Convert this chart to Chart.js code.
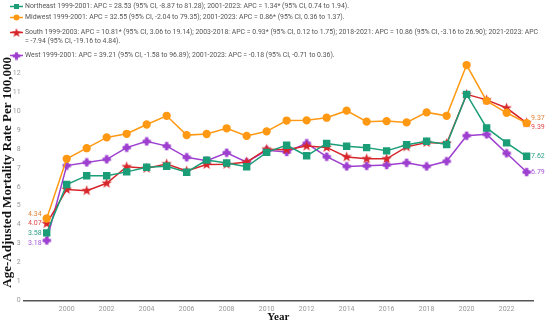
<!DOCTYPE html>
<html><head><meta charset="utf-8">
<script src="https://cdn.jsdelivr.net/npm/chart.js@4.4.1/dist/chart.umd.min.js"></script>
<style>
html,body{margin:0;padding:0;background:#fff;}
#wrap{position:relative;width:546px;height:326px;overflow:hidden;}
#c{position:absolute;left:0;top:0;z-index:1;}
#legend{position:absolute;left:0;top:0;width:546px;height:62px;z-index:2;font-family:Roboto,"Noto Sans",sans-serif;font-size:6.9px;color:#555;}
.li{position:absolute;left:25px;white-space:nowrap;line-height:9px;height:9px;}
.mk{position:absolute;left:10px;}
#ylabels{position:absolute;left:0;top:0;width:546px;height:326px;z-index:3;pointer-events:none;}
.yt{position:absolute;width:14px;font-family:Roboto,"Noto Sans",sans-serif;font-size:7px;line-height:9px;height:9px;color:#999;text-align:right;white-space:nowrap;}
</style></head>
<body>
<div id="wrap"><canvas id="c" width="546" height="326"></canvas><div id="legend"></div><div id="ylabels"></div></div>
<script>
const years = [1999,2000,2001,2002,2003,2004,2005,2006,2007,2008,2009,2010,2011,2012,2013,2014,2015,2016,2017,2018,2019,2020,2021,2022,2023];
const northeast = [3.58,6.13,6.60,6.60,6.80,7.04,7.10,6.78,7.42,7.27,7.07,7.83,8.21,7.65,8.30,8.15,8.08,7.91,8.23,8.42,8.25,10.89,9.12,8.33,7.62];
const midwest   = [4.34,7.49,8.05,8.62,8.81,9.30,9.76,8.74,8.80,9.10,8.70,8.94,9.51,9.52,9.66,10.03,9.45,9.48,9.41,9.94,9.76,12.44,10.55,9.92,9.37];
const south     = [4.07,5.87,5.81,6.20,7.07,6.99,7.22,6.85,7.19,7.20,7.32,8.00,7.97,8.16,8.09,7.59,7.49,7.49,8.12,8.35,8.30,10.89,10.60,10.17,9.39];
const west      = [3.18,7.13,7.30,7.46,8.08,8.41,8.16,7.57,7.39,7.81,7.31,7.94,7.85,8.31,7.60,7.09,7.12,7.16,7.28,7.09,7.36,8.71,8.78,7.78,6.79];
const xTickYears = [2000,2002,2004,2006,2008,2010,2012,2014,2016,2018,2020,2022];
const yTickValues = [0,1,2,3,4,5,6,7,8,9,10,11,12];
const seriesNames = ['Northeast','Midwest','South','West'];
const legendLines = [
  'Northeast 1999-2001: APC = 28.53 (95% CI, -8.87 to 81.28); 2001-2023: APC = 1.34* (95% CI, 0.74 to 1.94).',
  'Midwest 1999-2001: APC = 32.55 (95% CI, -2.04 to 79.35); 2001-2023: APC = 0.86* (95% CI, 0.36 to 1.37).',
  'South 1999-2003: APC = 10.81* (95% CI, 3.06 to 19.14); 2003-2018: APC = 0.93* (95% CI, 0.12 to 1.75); 2018-2021: APC = 10.86 (95% CI, -3.16 to 26.90); 2021-2023: APC',
  '= -7.94 (95% CI, -19.16 to 4.84).',
  'West 1999-2001: APC = 39.21 (95% CI, -1.58 to 96.89); 2001-2023: APC = -0.18 (95% CI, -0.71 to 0.36).'
];

const COLORS = {teal:'#1b9e77', orange:'#ff9914', red:'#d7262b', purple:'#9d3fcf'};

function makeStar(color, R){
  const s = Math.ceil(R*2+2), c = document.createElement('canvas'); c.width = s; c.height = s;
  const g = c.getContext('2d'); const cx = s/2, cy = s/2, r = R*0.42;
  g.beginPath();
  for (let i=0;i<10;i++){ const a = -Math.PI/2 + i*Math.PI/5; const rr = i%2? r : R;
    g.lineTo(cx + rr*Math.cos(a), cy + rr*Math.sin(a)); }
  g.closePath(); g.fillStyle = color; g.fill();
  return c;
}
function makePlus(color, R, t){
  const s = Math.ceil(R*2+1), c = document.createElement('canvas'); c.width = s; c.height = s;
  const g = c.getContext('2d'); const m = s/2;
  g.fillStyle = color;
  g.fillRect(m - t/2, m - R, t, 2*R);
  g.fillRect(m - R, m - t/2, 2*R, t);
  g.beginPath(); g.arc(m, m, t*0.85, 0, Math.PI*2); g.fill();
  return c;
}
const starImg = makeStar(COLORS.red, 5.5);
const plusImg = makePlus(COLORS.purple, 4.2, 3.2);

const toXY = arr => arr.map((v,i)=>({x:years[i], y:v}));

(function(){
  const lg = document.getElementById('legend');
  const centers = [6, 17.5, 32.2, 41.7, 55.3];
  const mk = [['rect',COLORS.teal],['circle',COLORS.orange],['star',COLORS.red],null,['plus',COLORS.purple]];
  legendLines.forEach((t,i)=>{
    const d = document.createElement('div'); d.className='li'; d.style.top=(centers[i]-4.5)+'px'; d.textContent=t; lg.appendChild(d);
    if (mk[i]){
      const cv = document.createElement('canvas'); cv.width=13; cv.height=11; cv.className='mk'; cv.style.top=(centers[i]-5.5)+'px';
      const g = cv.getContext('2d'); g.strokeStyle=mk[i][1]; g.lineWidth=1.5;
      g.beginPath(); g.moveTo(0,5.5); g.lineTo(13,5.5); g.stroke(); g.fillStyle=mk[i][1];
      if (mk[i][0]==='rect') g.fillRect(4,3,5,5);
      else if (mk[i][0]==='circle'){ g.beginPath(); g.arc(6.5,5.5,3,0,Math.PI*2); g.fill(); }
      else if (mk[i][0]==='star') g.drawImage(makeStar(mk[i][1],5), 0.5, 0);
      else g.drawImage(makePlus(mk[i][1],3.8,2.8), 2, 1.5);
      lg.appendChild(cv);
    }
  });
})();

const endLabels = {
  id:'endLabels',
  afterDatasetsDraw(chart){
    const ctx = chart.ctx;
    const leftOff = [0.4, -4.2, 0, 2.9];
    const rightOff = [0, -5.4, 4.2, 0];
    ctx.save();
    ctx.font = '7px Roboto, "Noto Sans", sans-serif';
    ctx.textBaseline = 'middle';
    chart.data.datasets.forEach((ds,i)=>{
      const meta = chart.getDatasetMeta(i);
      const p0 = meta.data[0], pn = meta.data[meta.data.length-1];
      const v0 = ds.data[0].y, vn = ds.data[ds.data.length-1].y;
      ctx.fillStyle = ds.labelColor;
      ctx.textAlign = 'right';
      ctx.fillText(v0.toFixed(2), p0.x - 5, p0.y + leftOff[i]);
      ctx.textAlign = 'left';
      ctx.fillText(vn.toFixed(2), pn.x + 4.5, pn.y + rightOff[i]);
    });
    ctx.restore();
  }
};

const chart = new Chart(document.getElementById('c'), {
  type:'line',
  data:{ datasets:[
    {label:seriesNames[0], data:toXY(northeast), borderColor:COLORS.teal, backgroundColor:COLORS.teal, labelColor:'#2a9f80', pointStyle:'rect', pointRadius:4.2, borderWidth:1.5},
    {label:seriesNames[1], data:toXY(midwest), borderColor:COLORS.orange, backgroundColor:COLORS.orange, labelColor:'#e0843a', pointStyle:'circle', pointRadius:3.4, borderWidth:1.5},
    {label:seriesNames[2], data:toXY(south), borderColor:COLORS.red, backgroundColor:COLORS.red, labelColor:'#e04a4a', pointStyle:starImg, borderWidth:1.5},
    {label:seriesNames[3], data:toXY(west), borderColor:COLORS.purple, backgroundColor:COLORS.purple, labelColor:'#a855d8', pointStyle:plusImg, borderWidth:1.5}
  ]},
  options:{
    responsive:false, animation:false,
    layout:{padding:{left:0,right:13,top:44,bottom:0}},
    plugins:{legend:{display:false}, tooltip:{enabled:false}},
    elements:{line:{tension:0}, point:{borderWidth:0}},
    scales:{
      x:{ type:'linear', min:1997.85, max:2023.32,
        afterBuildTicks(s){ s.ticks = xTickYears.map(v=>({value:v})); },
        afterFit(s){ s.height = 25.3; },
        grid:{display:false, drawTicks:false},
        border:{display:true, color:'#555', width:1.5},
        ticks:{ padding:4, color:'#999', font:{family:'Roboto', size:7}, maxRotation:0, autoSkip:false, callback:v=>String(v)},
        title:{display:true, text:'Year', color:'#111', font:{family:'"Liberation Serif", "Times New Roman", serif', weight:'bold', size:11}, padding:{top:0,bottom:2}}
      },
      y:{ type:'linear', min:0, max:13.55,
        afterFit(s){ s.width = 23.7; },
        grid:{display:false, drawTicks:false},
        border:{display:false},
        ticks:{ display:false },
        title:{display:true, text:'Age-Adjusted Mortality Rate Per 100,000', color:'#111', font:{family:'"Liberation Serif", "Times New Roman", serif', weight:'bold', size:13, lineHeight:1.1}, padding:{top:0,bottom:0}}
      }
    }
  },
  plugins:[endLabels]
});

// y tick labels, positioned from the chart's own scales
(function(){
  const ys = chart.scales.y;
  const axisLeft = chart.scales.x.getPixelForValue(chart.scales.x.min);
  const host = document.getElementById('ylabels');
  yTickValues.forEach(v => {
    const d = document.createElement('div'); d.className = 'yt'; d.textContent = String(v);
    d.style.top = (ys.getPixelForValue(v) - 4.5) + 'px';
    d.style.left = (axisLeft - 3 - 14) + 'px';
    host.appendChild(d);
  });
})();
</script>
</body></html>
